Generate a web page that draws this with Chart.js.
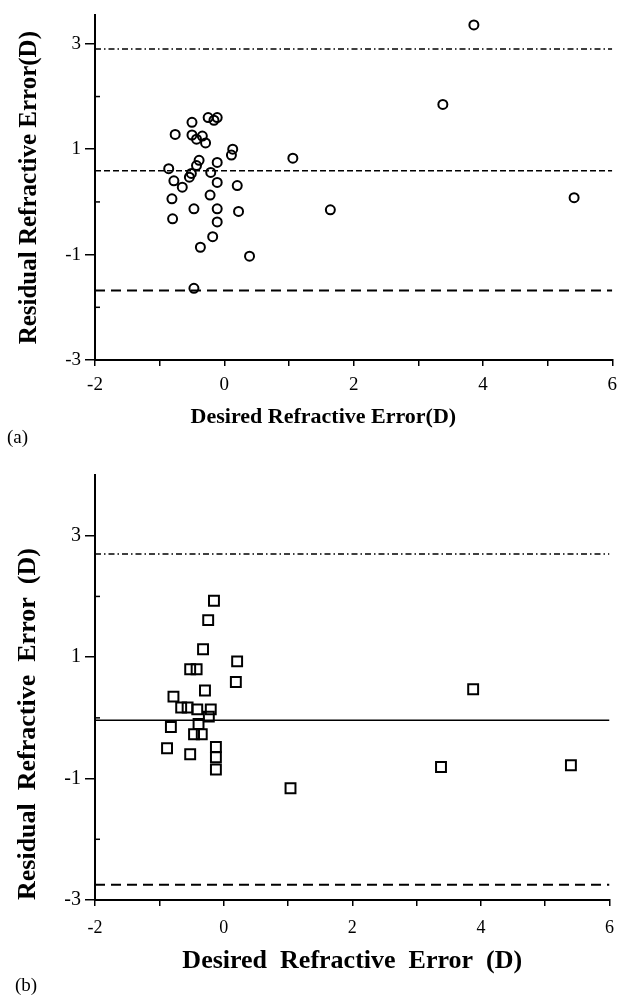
<!DOCTYPE html>
<html>
<head>
<meta charset="utf-8">
<script src="https://cdn.jsdelivr.net/npm/chart.js@4.4.1/dist/chart.umd.min.js"></script>
<style>
  body { margin: 0; background: #fff; }
  #wrap { position: relative; width: 625px; height: 998px; }
  canvas { position: absolute; left: 0; }
  .tag { position: absolute; font-family: 'Liberation Serif', 'Times New Roman', serif; font-size: 19px; color: #000; }
</style>
</head>
<body>
<div id="wrap">
  <canvas id="plotA" width="625" height="440" style="top:0;width:625px;height:440px"></canvas>
  <div class="tag" style="left:7px;top:426px">(a)</div>
  <canvas id="plotB" width="625" height="548" style="top:450px;width:625px;height:548px"></canvas>
  <div class="tag" style="left:15px;top:974px">(b)</div>
</div>
<script>
// axis ranges
const x_range = [-2, 6]
const y_range_a = [-3, 3.54]
const y_range_b = [-3, 4]

// (a) circles: desired vs residual refractive error
const desired_a = [-0.25, -0.11, -0.16, -0.50, -0.76, -0.50, -0.34, -0.43, -0.29, 0.13,
    0.11, 1.06, -0.39, -0.11, -0.43, -0.86, -0.21, -0.51, -0.54, -0.78,
    -0.11, -0.65, 0.20, -0.22, -0.81, -0.47, -0.11, 0.22, 1.64, -0.80,
    -0.11, -0.18, -0.37, 0.39, -0.47, 3.86, 3.38, 5.41]
const residual_a = [1.60, 1.60, 1.55, 1.51, 1.28, 1.27, 1.25, 1.19, 1.12, 1.00,
    0.89, 0.83, 0.79, 0.75, 0.69, 0.63, 0.56, 0.54, 0.47, 0.40,
    0.37, 0.28, 0.31, 0.13, 0.06, -0.13, -0.13, -0.18, -0.15, -0.32,
    -0.38, -0.66, -0.86, -1.03, -1.64, 3.36, 1.85, 0.08]
// upper limit, mean, lower limit
const limits_a = [2.90, 0.59, -1.68]

// (b) squares
const desired_b = [-0.15, -0.24, -0.32, 0.21, -0.52, -0.42, 0.19, -0.29, -0.78, -0.66,
    -0.56, -0.41, -0.20, -0.23, -0.39, -0.82, -0.46, -0.34, -0.88, -0.12,
    -0.52, -0.12, -0.12, 1.04, 3.88, 3.38, 5.40]
const residual_b = [1.93, 1.61, 1.13, 0.93, 0.80, 0.80, 0.59, 0.45, 0.35, 0.17,
    0.17, 0.14, 0.14, 0.02, -0.10, -0.15, -0.27, -0.27, -0.50, -0.48,
    -0.60, -0.65, -0.85, -1.16, 0.47, -0.81, -0.78]
const limits_b = [2.70, -0.04, -2.75]

const serif = "'Liberation Serif', 'Times New Roman', serif";
Chart.defaults.color = '#000';
Chart.defaults.font.family = serif;

// short inward tick marks at the unlabelled (even) y values
const minorTicks = {
    id: 'minorTicks',
    afterDraw(chart) {
        const y = chart.scales.y;
        const ctx = chart.ctx;
        ctx.save();
        ctx.strokeStyle = '#000';
        ctx.lineWidth = 1.5;
        y.ticks.forEach(t => {
            if (t.value % 2 === 0 && t.value > y.min && t.value < y.max) {
                const py = y.getPixelForValue(t.value);
                ctx.beginPath();
                ctx.moveTo(y.right, py);
                ctx.lineTo(y.right + 5, py);
                ctx.stroke();
            }
        });
        ctx.restore();
    }
};

function refLine(value, dash, width) {
    return {
        type: 'line',
        data: x_range.map(x => ({ x: x, y: value })),
        borderColor: '#000',
        borderWidth: width,
        borderDash: dash,
        pointRadius: 0,
        fill: false
    };
}

function makeConfig(p) {
    return {
        type: 'scatter',
        data: {
            datasets: [
                {
                    data: p.xs.map((x, i) => ({ x: x, y: p.ys[i] })),
                    pointStyle: p.marker,
                    radius: p.radius,
                    borderWidth: 2,
                    borderColor: '#000',
                    backgroundColor: 'rgba(0,0,0,0)'
                },
                refLine(p.limits[0], [6, 3, 1.5, 3], 1.5),
                refLine(p.limits[1], p.meanDash, p.meanWidth),
                refLine(p.limits[2], [10, 6], 2)
            ]
        },
        options: {
            responsive: false,
            animation: false,
            layout: { padding: p.padding },
            plugins: { legend: { display: false }, tooltip: { enabled: false } },
            scales: {
                x: {
                    type: 'linear',
                    min: x_range[0],
                    max: x_range[1],
                    afterFit: (s) => { s.height = p.xHeight; },
                    border: { display: true, color: '#000', width: 2 },
                    grid: { drawOnChartArea: false, tickLength: 6, color: '#000', lineWidth: 1.5 },
                    ticks: {
                        stepSize: 1,
                        autoSkip: false,
                        maxRotation: 0,
                        padding: p.xTickPad,
                        font: { size: p.xTickSize },
                        callback: (v) => (v % 2 === 0 ? String(v) : '')
                    },
                    title: {
                        display: true,
                        text: p.xTitle,
                        font: { size: p.xTitleSize, weight: 'bold' },
                        padding: { top: 0, bottom: 0 }
                    }
                },
                y: {
                    type: 'linear',
                    min: p.yRange[0],
                    max: p.yRange[1],
                    afterFit: (s) => { s.width = 95; },
                    border: { display: true, color: '#000', width: 2 },
                    grid: {
                        drawOnChartArea: false,
                        tickLength: 10,
                        lineWidth: 1.5,
                        color: (c) => (c.tick && Math.abs(c.tick.value) % 2 === 1 ? '#000' : 'rgba(0,0,0,0)')
                    },
                    ticks: {
                        stepSize: 1,
                        includeBounds: false,
                        autoSkip: false,
                        padding: 4,
                        font: { size: p.yTickSize },
                        callback: (v) => (Math.abs(v) % 2 === 1 ? String(v) : '')
                    },
                    title: {
                        display: true,
                        text: p.yTitle,
                        align: p.yTitleAlign,
                        font: { size: p.yTitleSize, weight: 'bold' },
                        padding: { top: p.yTitlePad, bottom: 0 }
                    }
                }
            }
        },
        plugins: [minorTicks]
    };
}

new Chart(document.getElementById('plotA'), makeConfig({
    xs: desired_a, ys: residual_a, limits: limits_a, yRange: y_range_a,
    marker: 'circle', radius: 4.5,
    meanDash: [6, 3], meanWidth: 1.5,
    padding: { top: 13, right: 12, left: 0, bottom: 9 },
    xHeight: 71, xTickPad: 8, xTickSize: 19, yTickSize: 19,
    // trailing spaces pull the centred title left, as in the original
    xTitle: 'Desired Refractive Error(D)           ', xTitleSize: 22,
    yTitle: 'Residual Refractive Error(D)', yTitleSize: 25, yTitleAlign: 'center', yTitlePad: 15
}));

new Chart(document.getElementById('plotB'), makeConfig({
    xs: desired_b, ys: residual_b, limits: limits_b, yRange: y_range_b,
    marker: 'rect', radius: 7,
    meanDash: [], meanWidth: 1.5,
    padding: { top: 25, right: 11, left: 0, bottom: 21 },
    xHeight: 77, xTickPad: 11, xTickSize: 18, yTickSize: 20,
    xTitle: 'Desired  Refractive  Error  (D)', xTitleSize: 26,
    yTitle: 'Residual  Refractive  Error  (D)', yTitleSize: 26, yTitleAlign: 'start', yTitlePad: 13
}));
</script>
</body>
</html>
